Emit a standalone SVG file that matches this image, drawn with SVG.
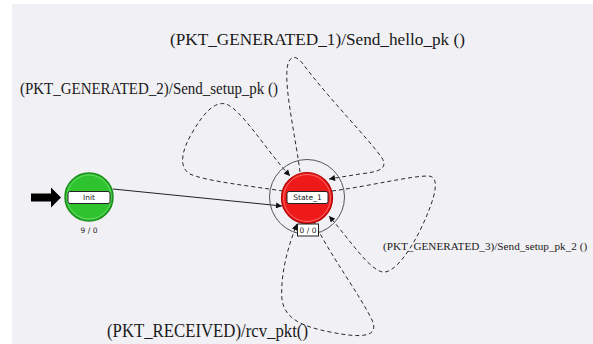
<svg xmlns="http://www.w3.org/2000/svg" width="593" height="344" viewBox="0 0 593 344">
<style>
.lbl{font-family:"Liberation Serif","Times New Roman",serif;fill:#1a1a1a}
.loop{fill:none;stroke:#2a2a2a;stroke-width:1;stroke-dasharray:4 3}
.solid{fill:none;stroke:#222;stroke-width:1}
.nl{font-family:"DejaVu Sans",Verdana,sans-serif;font-size:7.5px;fill:#222;text-anchor:middle}
.box{fill:#fff;stroke:#222;stroke-width:1}
</style>
<defs>
<marker id="ah" viewBox="0 0 10 10" refX="10" refY="5" markerWidth="7" markerHeight="6" orient="auto" markerUnits="userSpaceOnUse"><path d="M0,0 L10,5 L0,10 z" fill="#111"/></marker>
</defs>
<rect x="0" y="0" width="593" height="344" fill="#ffffff"/>
<rect x="12" y="4" width="581" height="340" fill="#f1f0f4"/>

<g id="connectors">
<path class="solid" d="M113,189 L282,206" marker-end="url(#ah)"/>
<path class="loop" d="M300,172 C296,140 285,92 287,70 C288,55 296,54 303,64 C330,100 368,138 382,158 C389,170 376,172 360,174 L329,179" marker-end="url(#ah)"/>
<path class="loop" d="M283,191 C250,186 205,181 190,174 C178,167 182,150 192,133 C203,114 214,101 226,104 C242,110 266,150 290,176" marker-end="url(#ah)"/>
<path class="loop" d="M332,191 C370,186 410,176 428,176 C440,176 435,195 429,210 C419,236 400,270 385,272 C372,274 350,240 329,216" marker-end="url(#ah)"/>
<path class="loop" d="M314,222 C330,255 360,295 372,320 C380,338 360,338 330,332 C300,326 285,318 282,300 C280,275 288,246 297,224" marker-end="url(#ah)"/>
<path d="M31,193.5 L51,193.5 L51,187.5 L61,197.5 L51,207.5 L51,201.5 L31,201.5 z" fill="#000"/>
</g>

<g id="init">
<circle cx="89" cy="197" r="24" fill="#2fc42f" stroke="#1a8f1a" stroke-width="1.5"/>
<circle cx="89" cy="197" r="22" fill="none" stroke="#8fe08f" stroke-width="0.6"/>
<rect class="box" x="68" y="191.5" width="42" height="12" rx="2"/>
<text class="nl" x="89" y="200.3">Init</text>
<text class="nl" x="89" y="233">9 / 0</text>
</g>

<g id="state_1">
<circle cx="307" cy="197" r="37.5" fill="none" stroke="#555" stroke-width="1"/>
<circle cx="307" cy="198" r="25.5" fill="#ee1a1a" stroke="#b00000" stroke-width="1.2"/>
<circle cx="307" cy="198" r="23.5" fill="none" stroke="#ff9c9c" stroke-width="0.6"/>
<rect class="box" x="287" y="191.5" width="41" height="12" rx="2"/>
<text class="nl" x="307.5" y="200.3">State_1</text>
<rect class="box" x="297.5" y="224" width="21" height="12"/>
<text class="nl" x="308" y="232.8">0 / 0</text>
</g>

<g id="labels">
<text class="lbl" x="170" y="45" font-size="17.5" textLength="295" lengthAdjust="spacingAndGlyphs">(PKT_GENERATED_1)/Send_hello_pk ()</text>
<text class="lbl" x="20" y="94" font-size="16" textLength="258" lengthAdjust="spacingAndGlyphs">(PKT_GENERATED_2)/Send_setup_pk ()</text>
<text class="lbl" x="383" y="250" font-size="11.2">(PKT_GENERATED_3)/Send_setup_pk_2 ()</text>
<text class="lbl" x="107" y="337" font-size="18" textLength="201" lengthAdjust="spacingAndGlyphs">(PKT_RECEIVED)/rcv_pkt()</text>
</g>
</svg>
